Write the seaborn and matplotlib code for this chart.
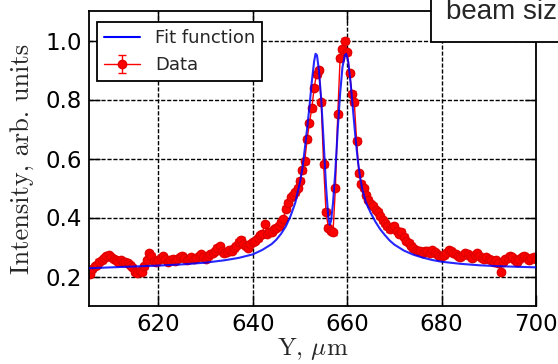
import numpy as np
import pandas as pd
import matplotlib
matplotlib.use("Agg")
import matplotlib.pyplot as plt
from matplotlib.patches import Rectangle
import seaborn as sns

# ---- data ----
data_x = np.arange(605.5, 700.01, 0.5)
data_y = [
    0.210, 0.225, 0.235, 0.240, 0.250, 0.255, 0.262, 0.268, 0.272, 0.265,   # 605.5-610.0
    0.258, 0.255, 0.250, 0.255, 0.248, 0.250, 0.245, 0.240, 0.232, 0.215,   # 610.5-615.0
    0.212, 0.218, 0.215, 0.235, 0.255, 0.278, 0.270, 0.252, 0.248, 0.255,   # 615.5-620.0
    0.262, 0.268, 0.258, 0.250, 0.255, 0.260, 0.252, 0.258, 0.265, 0.270,   # 620.5-625.0
    0.262, 0.255, 0.260, 0.265, 0.258, 0.262, 0.268, 0.275, 0.265, 0.260,   # 625.5-630.0
    0.268, 0.275, 0.280, 0.285, 0.298, 0.302, 0.285, 0.278, 0.282, 0.290,   # 630.5-635.0
    0.288, 0.295, 0.305, 0.318, 0.325, 0.310, 0.302, 0.298, 0.310, 0.318,   # 635.5-640.0
    0.322, 0.330, 0.340, 0.345, 0.378, 0.345, 0.350, 0.352, 0.360, 0.365,   # 640.5-645.0
    0.372, 0.385, 0.395, 0.430, 0.450, 0.468, 0.475, 0.485, 0.500, 0.525,   # 645.5-650.0
    0.560, 0.590, 0.665, 0.720, 0.770, 0.840, 0.885, 0.900, 0.790, 0.580,   # 650.5-655.0
    0.420, 0.365, 0.355, 0.350, 0.500, 0.750, 0.940, 0.970, 1.000, 0.960,   # 655.5-660.0
    0.890, 0.820, 0.790, 0.660, 0.550, 0.515, 0.500, 0.475, 0.460, 0.445,   # 660.5-665.0
    0.440, 0.425, 0.420, 0.405, 0.390, 0.380, 0.370, 0.360, 0.368, 0.370,   # 665.5-670.0
    0.355, 0.345, 0.352, 0.335, 0.320, 0.315, 0.305, 0.295, 0.290, 0.288,   # 670.5-675.0
    0.285, 0.280, 0.288, 0.285, 0.278, 0.290, 0.282, 0.275, 0.270, 0.268,   # 675.5-680.0
    0.272, 0.280, 0.290, 0.288, 0.280, 0.275, 0.270, 0.265, 0.272, 0.278,   # 680.5-685.0
    0.275, 0.268, 0.262, 0.272, 0.280, 0.270, 0.262, 0.258, 0.265, 0.260,   # 685.5-690.0
    0.255, 0.250, 0.255, 0.245, 0.215, 0.250, 0.258, 0.262, 0.270, 0.265,   # 690.5-695.0
    0.255, 0.250, 0.258, 0.265, 0.270, 0.262, 0.255, 0.262, 0.265, 0.258,   # 695.5-700.0
]
data_err = 0.008

fit_x = [605.3, 610, 615, 620, 625, 630, 634, 637, 640, 642, 644, 645, 646, 647,
         648, 649, 650, 650.5, 651, 651.5, 652, 652.5, 653, 653.3, 653.6, 654,
         654.5, 655, 655.5, 656, 656.3, 656.6, 657, 657.5, 658, 658.5, 659,
         659.5, 659.8, 660.2, 660.7, 661.2, 661.7, 662.2, 662.7, 663.2, 664,
         665, 666, 667, 668, 669, 670, 672, 674, 676, 678, 680, 684, 688, 692,
         696, 700]
fit_y = [0.228, 0.231, 0.234, 0.237, 0.241, 0.247, 0.255, 0.263, 0.275, 0.290,
         0.310, 0.325, 0.345, 0.370, 0.405, 0.450, 0.520, 0.565, 0.630, 0.700,
         0.775, 0.860, 0.930, 0.955, 0.950, 0.900, 0.800, 0.660, 0.510, 0.400,
         0.375, 0.390, 0.450, 0.560, 0.700, 0.820, 0.910, 0.950, 0.955, 0.930,
         0.860, 0.770, 0.680, 0.600, 0.540, 0.495, 0.450, 0.415, 0.385, 0.360,
         0.340, 0.322, 0.308, 0.288, 0.274, 0.264, 0.256, 0.250, 0.243, 0.238,
         0.235, 0.233, 0.231]

x_ticks = [620, 640, 660, 680, 700]
y_ticks = [0.2, 0.4, 0.6, 0.8, 1.0]
x_label = "Y, $\\mu$m"
y_label = "Intensity, arb. units"
legend_fit = "Fit function"
legend_data = "Data"
box_text = "beam size"

# ---- style ----
sns.set_style("ticks")
plt.rcParams["font.family"] = ["DejaVu Sans"]
plt.rcParams["mathtext.fontset"] = "cm"
plt.rcParams["axes.unicode_minus"] = False

W, H = 558, 364
fig = plt.figure(figsize=(W / 100, H / 100), dpi=100)
ax = fig.add_axes([89 / W, 1 - 306 / H, (536 - 89) / W, (306 - 11) / H])

fit_df = pd.DataFrame({"x": fit_x, "y": fit_y})
ax.errorbar(data_x, data_y, yerr=data_err, fmt="o-", color="#ff0000",
            mec="#e00000", ms=6, lw=1.0, capsize=3, elinewidth=1.0,
            label=legend_data, zorder=2)
sns.lineplot(data=fit_df, x="x", y="y", ax=ax, color="#0000ff", lw=1.5,
             alpha=0.85, label=legend_fit, zorder=3, sort=False)

ax.set_xlim(605.3, 700)
ax.set_ylim(0.1, 1.1)
ax.set_xticks(x_ticks)
ax.set_yticks(y_ticks)
ax.set_xticklabels([str(t) for t in x_ticks])
ax.set_yticklabels([f"{t:.1f}" for t in y_ticks])

ax.grid(True, color="black", linestyle=(0, (3, 1.3)), linewidth=1.0)
ax.tick_params(direction="in", length=8, width=1.0, top=True, right=True,
               labelsize=16.5, pad=5, colors="black")
for s in ax.spines.values():
    s.set_visible(True)
    s.set_linewidth(1.3)
    s.set_color("black")

ax.set_xlabel(x_label, family="cmr10", fontsize=18, labelpad=0)
ax.set_ylabel(y_label, family="cmr10", fontsize=19, labelpad=8)

handles, labels = ax.get_legend_handles_labels()
order = [labels.index(legend_fit), labels.index(legend_data)]
leg = ax.legend([handles[i] for i in order], [labels[i] for i in order],
                loc="upper left", bbox_to_anchor=((97 - 89) / 447, (306 - 22) / 295),
                borderaxespad=0, fontsize=13, fancybox=False, framealpha=1,
                edgecolor="black", handlelength=2.0)
leg.get_frame().set_linewidth(1.3)
for lh in leg.get_lines():
    lh.set_alpha(1)

# partially visible annotation box at the top right (cut by the figure edge)
fig.patches.append(Rectangle((431 / W, 1 - 42 / H), 0.5, 0.2,
                             transform=fig.transFigure, facecolor="white",
                             edgecolor="black", linewidth=1.3, zorder=5))
fig.text(446 / W, 1 - 19 / H, box_text, fontsize=20, family="Liberation Sans",
         va="baseline", ha="left", zorder=6)

fig.savefig("out.png", dpi=100)
